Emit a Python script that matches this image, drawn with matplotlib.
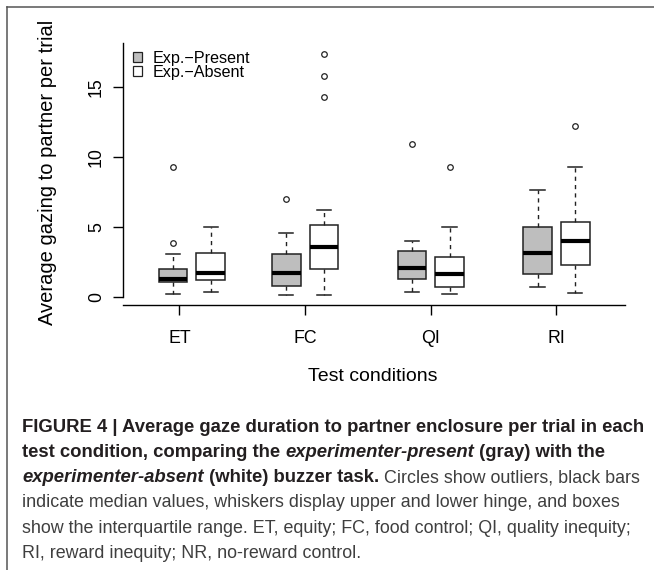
import matplotlib
matplotlib.use("Agg")
import matplotlib.pyplot as plt
from matplotlib.patches import Patch
from matplotlib.lines import Line2D
from matplotlib.font_manager import FontProperties

plt.rcParams['font.family'] = ['Liberation Sans', 'DejaVu Sans']

# ---------------- data ----------------
categories = ["ET", "FC", "QI", "RI"]
series_labels = ["Exp.\u2212Present", "Exp.\u2212Absent"]

present_whislo = [0.21, 0.14, 0.38, 0.74]
present_q1 = [1.11, 0.83, 1.31, 1.64]
present_med = [1.29, 1.76, 2.07, 3.14]
present_q3 = [2.00, 3.07, 3.31, 5.02]
present_whishi = [3.09, 4.57, 4.00, 7.69]
present_fliers = [[3.9, 9.33], [7.0], [10.95], []]

absent_whislo = [0.36, 0.19, 0.21, 0.31]
absent_q1 = [1.24, 2.02, 0.74, 2.29]
absent_med = [1.76, 3.61, 1.69, 4.04]
absent_q3 = [3.14, 5.14, 2.86, 5.38]
absent_whishi = [5.04, 6.24, 5.04, 9.31]
absent_fliers = [[], [17.4, 15.79, 14.31], [9.31], [12.21]]

y_ticks = [0, 5, 10, 15]

# ---------------- layout ----------------
W, H, DPI = 654, 570, 100
fig = plt.figure(figsize=(W / DPI, H / DPI), dpi=DPI)


def fx(px):
    return px / W


def fy(py):
    return 1 - py / H


ax = fig.add_axes([0.1589, 0.4539, 0.8265, 0.4912])
ax.set_xlim(0.4, 4.7)
ax.set_ylim(-1, 19)

group_centers = [1.1, 2.0, 3.0, 4.0]
offset = 0.15
box_w = 0.228


def make_stats(lo, q1, med, q3, hi, fl):
    return [dict(whislo=a, q1=b, med=c, q3=d, whishi=e, fliers=f)
            for a, b, c, d, e, f in zip(lo, q1, med, q3, hi, fl)]


common = dict(widths=box_w, patch_artist=True, manage_ticks=False,
              capwidths=box_w * 0.5,
              medianprops=dict(color='black', linewidth=3.0, solid_capstyle='butt'),
              whiskerprops=dict(color='#222222', linewidth=1.0, linestyle=(0, (3, 3))),
              capprops=dict(color='#222222', linewidth=1.1),
              flierprops=dict(marker='o', markersize=4, markerfacecolor='none',
                              markeredgecolor='#222222', markeredgewidth=0.9))

ax.bxp(make_stats(present_whislo, present_q1, present_med, present_q3,
                  present_whishi, present_fliers),
       positions=[c - offset for c in group_centers],
       boxprops=dict(facecolor='#BEBEBE', edgecolor='#222222', linewidth=1.1),
       **common)
ax.bxp(make_stats(absent_whislo, absent_q1, absent_med, absent_q3,
                  absent_whishi, absent_fliers),
       positions=[c + offset for c in group_centers],
       boxprops=dict(facecolor='white', edgecolor='#222222', linewidth=1.1),
       **common)

for s in ['top', 'right']:
    ax.spines[s].set_visible(False)
ax.spines['left'].set_position(('data', 0.5545))
ax.spines['left'].set_bounds(0, 18.14)
ax.spines['bottom'].set_position(('data', -0.52))
ax.spines['bottom'].set_bounds(0.5545, 4.546)
for s in ['left', 'bottom']:
    ax.spines[s].set_linewidth(1.0)
    ax.spines[s].set_color('black')

ax.set_yticks(y_ticks)
ax.set_yticklabels([str(v) for v in y_ticks], rotation=90, va='center')
ax.set_xticks([1, 2, 3, 4])
ax.set_xticklabels(categories)
ax.tick_params(axis='y', length=7.2, width=1.0, pad=6, labelsize=12.8)
ax.tick_params(axis='x', length=7.0, width=1.0, pad=11, labelsize=12.8)

fig.text(fx(48), fy(172.5), "Average gazing to partner per trial", rotation=90,
         ha='center', va='center', fontsize=14.5)
fig.text(fx(372.5), fy(376.7), "Test conditions", ha='center', va='center', fontsize=14)

handles = [Patch(facecolor='#BEBEBE', edgecolor='#222222', linewidth=0.9, label=series_labels[0]),
           Patch(facecolor='white', edgecolor='#222222', linewidth=0.9, label=series_labels[1])]
ax.legend(handles=handles, loc='upper left', bbox_to_anchor=(fx(133), fy(51)),
          bbox_transform=fig.transFigure, frameon=False, fontsize=11.6,
          handlelength=0.57, handleheight=0.57, handletextpad=0.62,
          labelspacing=-0.06, borderpad=0, borderaxespad=0)

# page frame
fig.add_artist(Line2D([fx(7), 1], [fy(7), fy(7)], transform=fig.transFigure,
                      color='#555555', linewidth=1.1))
fig.add_artist(Line2D([fx(7), fx(7)], [fy(7), 0], transform=fig.transFigure,
                      color='#555555', linewidth=1.1))

# ---------------- caption ----------------
renderer = fig.canvas.get_renderer()
B = dict(weight='bold', style='normal')
BI = dict(weight='bold', style='italic')
N = dict(weight='normal', style='normal')

caption_lines = [
    [("FIGURE 4 | Average gaze duration to partner enclosure per trial in each", B)],
    [("test condition, comparing the ", B), ("experimenter-present", BI), (" (gray) with the", B)],
    [("experimenter-absent", BI), (" (white) buzzer task.", B), (" Circles show outliers, black bars", N)],
    [("indicate median values, whiskers display upper and lower hinge, and boxes", N)],
    [("show the interquartile range. ET, equity; FC, food control; QI, quality inequity;", N)],
    [("RI, reward inequity; NR, no-reward control.", N)],
]


def tw(s, size, kw):
    fp = FontProperties(family=['Liberation Sans'], size=size, **kw)
    w1 = renderer.get_text_width_height_descent("|" + s + "|", fp, ismath=False)[0]
    w0 = renderer.get_text_width_height_descent("||", fp, ismath=False)[0]
    return w1 - w0


bold_size = 12.0 * 623 / tw(caption_lines[0][0][0], 12.0, B)
norm_size = 12.0 * 600 / tw(caption_lines[3][0][0], 12.0, N)
sizes = {True: bold_size, False: norm_size}
colors = {True: '#231f20', False: '#3f3f3f'}

x0 = 22.5
base0 = 431.5
spacing = 25.3
for i, segs in enumerate(caption_lines):
    x = x0
    yb = base0 + i * spacing
    for s, kw in segs:
        isb = kw['weight'] == 'bold'
        size = sizes[isb]
        fig.text(fx(x), fy(yb), s, fontsize=size, ha='left', va='baseline',
                 color=colors[isb], family=['Liberation Sans'], **kw)
        x += tw(s, size, kw)

fig.savefig("out.png", dpi=DPI)
